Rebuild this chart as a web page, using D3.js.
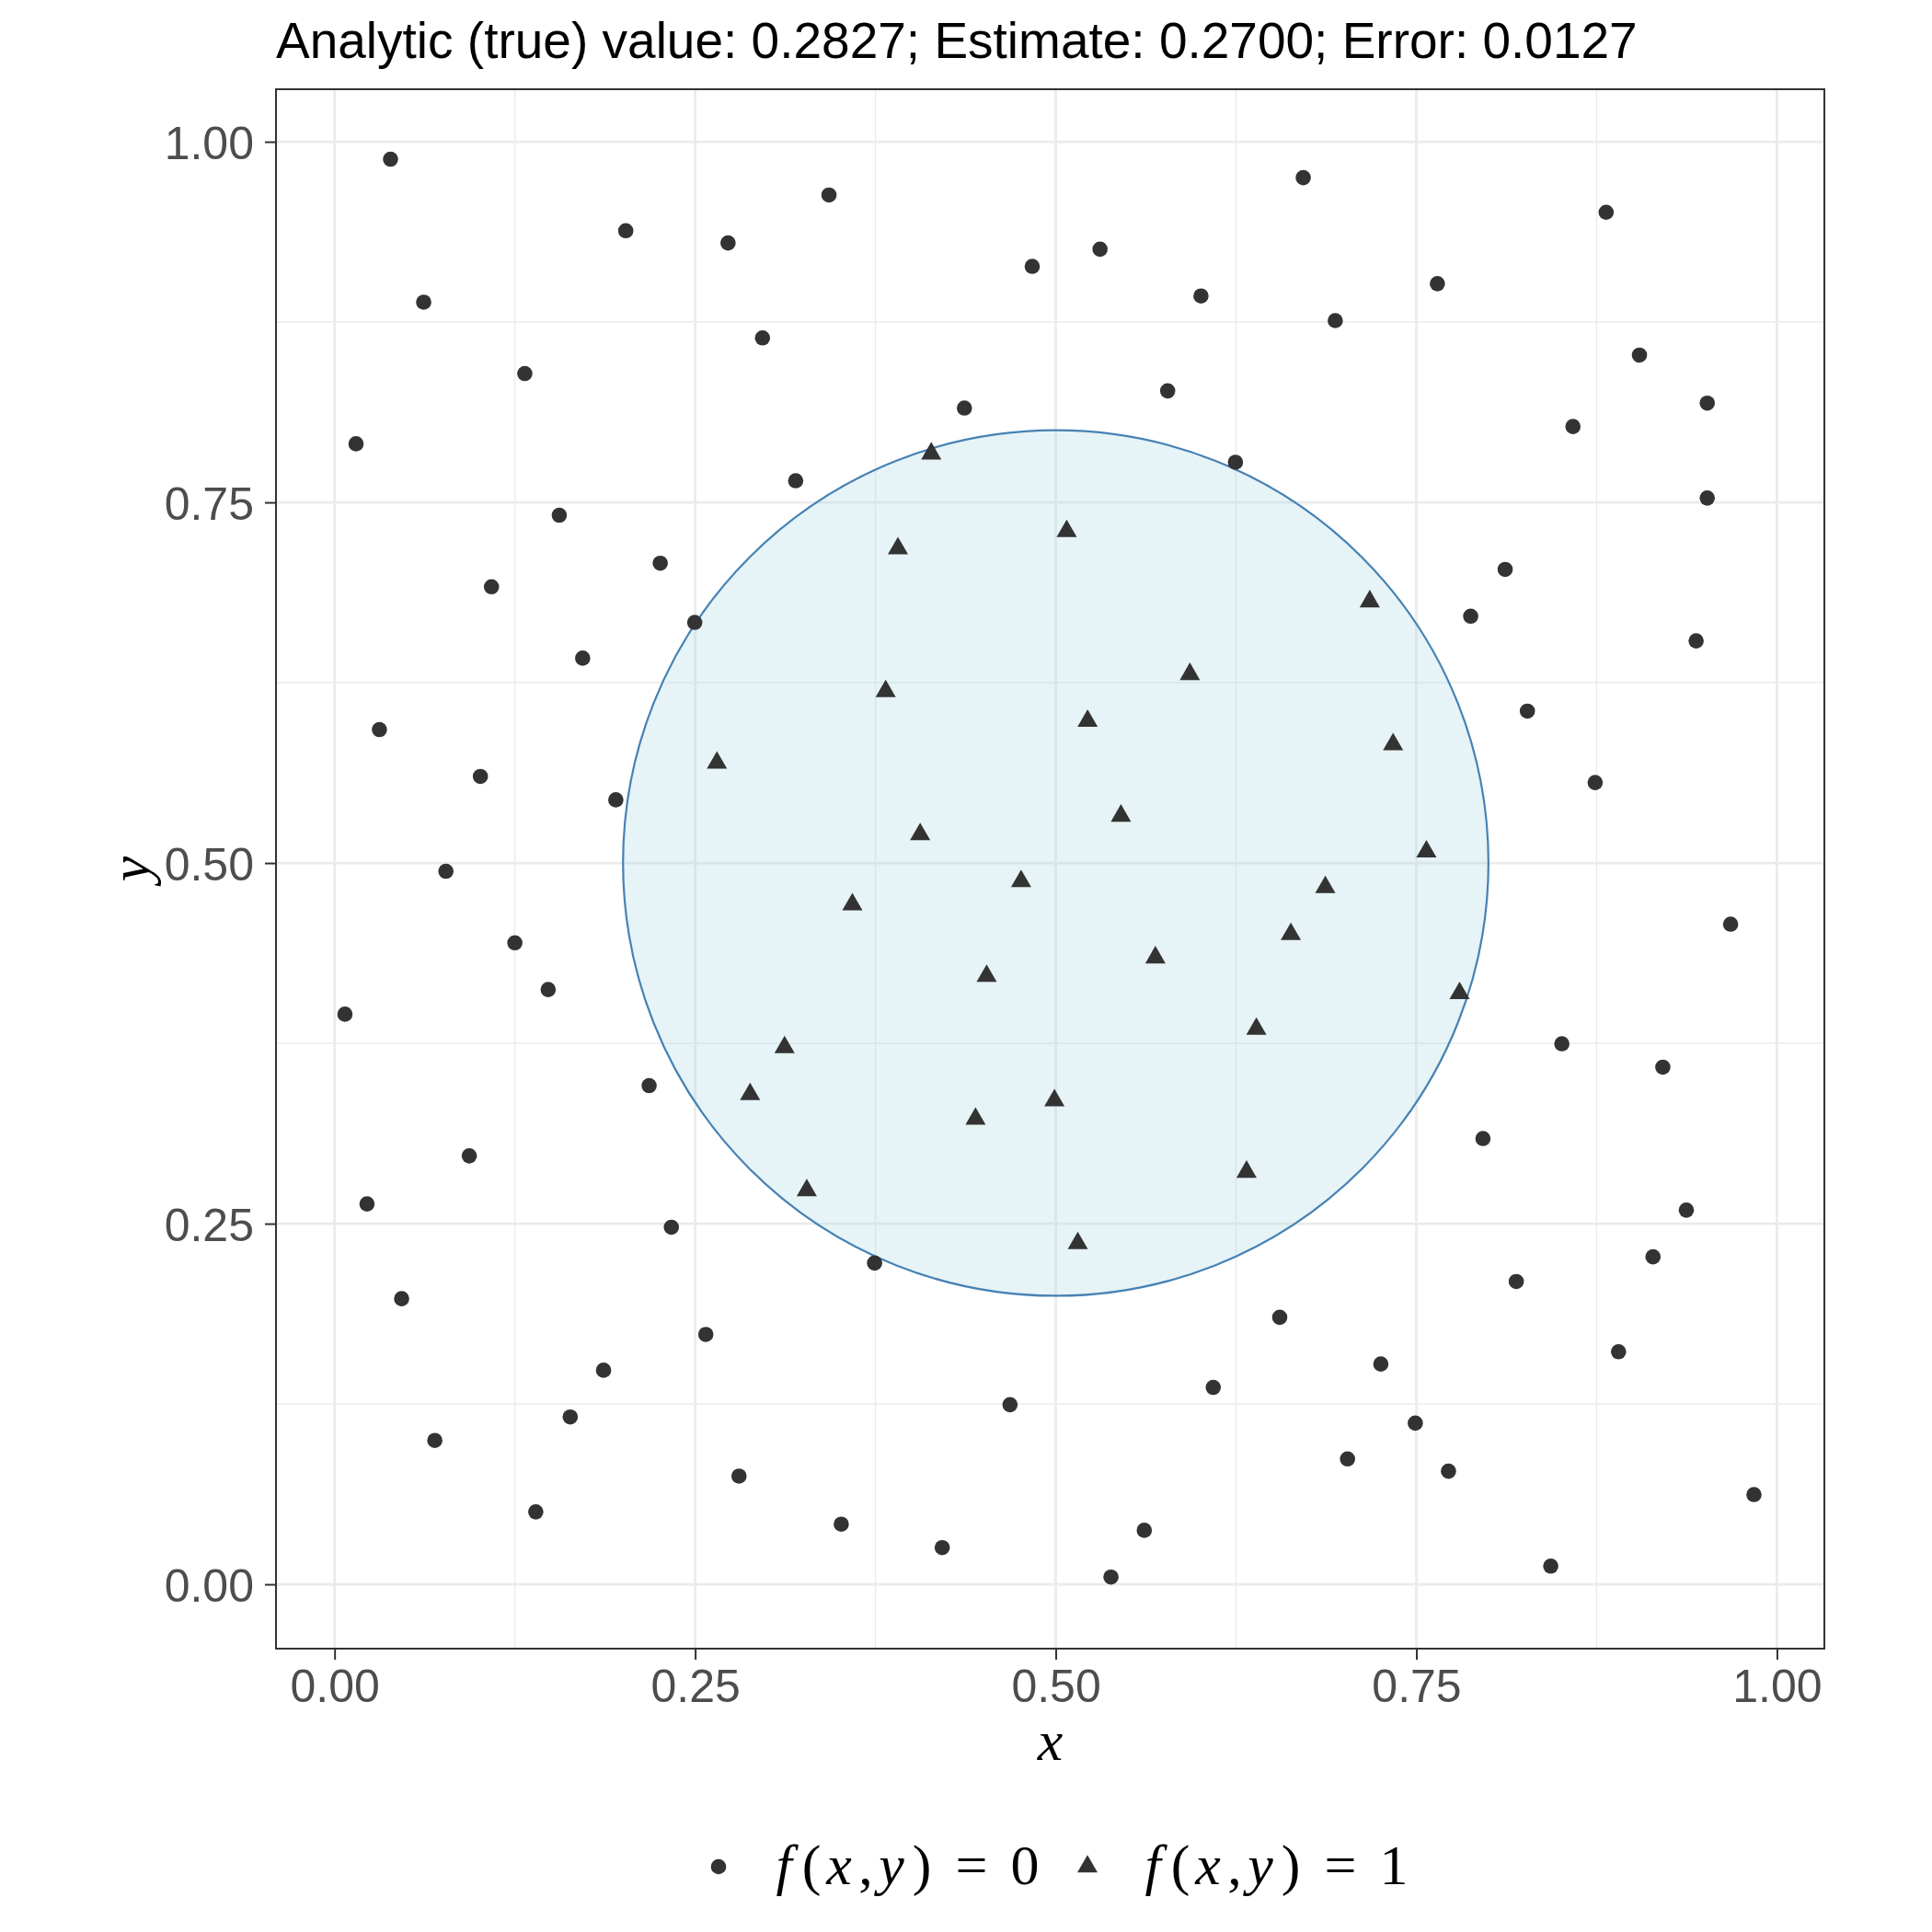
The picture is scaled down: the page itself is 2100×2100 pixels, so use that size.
<!DOCTYPE html>
<html>
<head>
<meta charset="utf-8">
<script src="https://cdn.jsdelivr.net/npm/d3@7"></script>
<style>
  body { margin: 0; background: #fff; }
</style>
</head>
<body>
<div id="chart"></div>
<script>
// points where f(x,y) = 0 (outside the circle)
var outX = [0.0388, 0.3428, 0.6716, 0.8816, 0.2019, 0.2728, 0.5307, 0.4837, 0.7646, 0.0618,
            0.6007, 0.6938, 0.2967, 0.9047, 0.1319, 0.5776, 0.4367, 0.9517, 0.8586, 0.0149,
            0.3197, 0.6246, 0.9517, 0.1558, 0.2258, 0.8116, 0.1088, 0.2497, 0.7877, 0.9440,
            0.1720, 0.8270, 0.0311, 0.1011, 0.8740, 0.1950, 0.0772, 0.9679, 0.1250, 0.1481,
            0.0072, 0.8509, 0.9209, 0.2181, 0.7962, 0.0934, 0.0225, 0.9372, 0.2335, 0.3744,
            0.9141, 0.8193, 0.0465, 0.6553, 0.2574, 0.7254, 0.1865, 0.8902, 0.6092, 0.4683,
            0.1634, 0.7493, 0.0695, 0.7023, 0.7723, 0.2804, 0.9841, 0.1395, 0.3513, 0.5614,
            0.4213, 0.8432, 0.5383];
var outY = [0.9879, 0.9631, 0.9751, 0.9511, 0.9383, 0.9298, 0.9255, 0.9136, 0.9016, 0.8888,
            0.8931, 0.8760, 0.8640, 0.8521, 0.8393, 0.8273, 0.8154, 0.8188, 0.8026, 0.7906,
            0.7650, 0.7778, 0.7530, 0.7411, 0.7078, 0.7035, 0.6915, 0.6668, 0.6711, 0.6540,
            0.6420, 0.6053, 0.5925, 0.5600, 0.5558, 0.5438, 0.4943, 0.4576, 0.4447, 0.4123,
            0.3952, 0.3747, 0.3585, 0.3457, 0.3090, 0.2970, 0.2637, 0.2594, 0.2475, 0.2227,
            0.2270, 0.2099, 0.1980, 0.1851, 0.1732, 0.1527, 0.1484, 0.1612, 0.1365, 0.1245,
            0.1160, 0.1117, 0.0997, 0.0869, 0.0784, 0.0750, 0.0622, 0.0502, 0.0417, 0.0374,
            0.0254, 0.0126, 0.0050];

// points where f(x,y) = 1 (inside the circle)
var inX = [0.4137, 0.3906, 0.5076, 0.7177, 0.3821, 0.5930, 0.5221, 0.7339, 0.2651, 0.4060,
           0.5452, 0.7570, 0.4760, 0.3590, 0.6869, 0.6630, 0.5691, 0.4521, 0.7800, 0.3120,
           0.6391, 0.2881, 0.4444, 0.4991, 0.3274, 0.6323, 0.5153];
var inY = [0.7838, 0.7180, 0.7300, 0.6813, 0.6190, 0.6309, 0.5985, 0.5822, 0.5694, 0.5199,
           0.5327, 0.5079, 0.4874, 0.4712, 0.4832, 0.4507, 0.4345, 0.4217, 0.4097, 0.3722,
           0.3850, 0.3397, 0.3226, 0.3354, 0.2731, 0.2859, 0.2364];

var circleCenter = [0.5, 0.5];
var circleRadius = 0.3;

var majorTicks = [0, 0.25, 0.5, 0.75, 1];
var minorTicks = [0.125, 0.375, 0.625, 0.875];
var tickLabels = ['0.00', '0.25', '0.50', '0.75', '1.00'];

var trueValue = 0.2827;
var estimate = 0.2700;
var errorValue = 0.0127;
var legendLabels = ['0', '1'];

const width = 2100;
const height = 2100;
const panel = {left: 300, right: 1983, top: 97, bottom: 1792};
const sans = 'Liberation Sans, Arial, Helvetica, sans-serif';
const serif = 'Liberation Serif, Times New Roman, serif';
const ink = '#333333';

const svg = d3.select('#chart')
    .append('svg')
    .attr('width', width)
    .attr('height', height)
    .style('background', '#fff');

var x = d3.scaleLinear()
    .domain([-0.0406, 1.0329])
    .range([panel.left, panel.right]);

var y = d3.scaleLinear()
    .domain([-0.0446, 1.0364])
    .range([panel.bottom, panel.top]);

// panel background
svg.append('rect')
    .attr('x', panel.left).attr('y', panel.top)
    .attr('width', panel.right - panel.left)
    .attr('height', panel.bottom - panel.top)
    .attr('fill', '#fff');

// grid
var grid = svg.append('g');
function gridLines(vals, w) {
    grid.selectAll(null).data(vals).enter().append('line')
        .attr('x1', d => x(d)).attr('x2', d => x(d))
        .attr('y1', panel.top).attr('y2', panel.bottom)
        .attr('stroke', '#EBEBEB').attr('stroke-width', w);
    grid.selectAll(null).data(vals).enter().append('line')
        .attr('y1', d => y(d)).attr('y2', d => y(d))
        .attr('x1', panel.left).attr('x2', panel.right)
        .attr('stroke', '#EBEBEB').attr('stroke-width', w);
}
gridLines(minorTicks, 1.4);
gridLines(majorTicks, 2.7);

// the circle
svg.append('ellipse')
    .attr('cx', x(circleCenter[0]))
    .attr('cy', y(circleCenter[1]))
    .attr('rx', x(circleCenter[0] + circleRadius) - x(circleCenter[0]))
    .attr('ry', y(circleCenter[1]) - y(circleCenter[1] + circleRadius))
    .attr('fill', 'lightblue')
    .attr('fill-opacity', 0.3)
    .attr('stroke', 'steelblue')
    .attr('stroke-width', 2.2);

var dot = d3.symbol().type(d3.symbolCircle).size(Math.PI * 8.3 * 8.3);
var tri = d3.symbol().type(d3.symbolTriangle).size(Math.sqrt(3) / 4 * 22 * 22);

svg.append('g').selectAll('path')
    .data(d3.range(outX.length))
    .enter()
    .append('path')
    .attr('d', dot)
    .attr('transform', i => 'translate(' + x(outX[i]) + ',' + y(outY[i]) + ')')
    .attr('fill', ink);

svg.append('g').selectAll('path')
    .data(d3.range(inX.length))
    .enter()
    .append('path')
    .attr('d', tri)
    .attr('transform', i => 'translate(' + x(inX[i]) + ',' + y(inY[i]) + ')')
    .attr('fill', ink);

// panel border
svg.append('rect')
    .attr('x', panel.left).attr('y', panel.top)
    .attr('width', panel.right - panel.left)
    .attr('height', panel.bottom - panel.top)
    .attr('fill', 'none')
    .attr('stroke', ink)
    .attr('stroke-width', 2);

// axes
var fmt = d => tickLabels[majorTicks.indexOf(d)];
var xAxis = svg.append('g')
    .attr('transform', 'translate(0,' + panel.bottom + ')')
    .call(d3.axisBottom(x).tickValues(majorTicks).tickFormat(fmt).tickSize(12).tickPadding(10));
var yAxis = svg.append('g')
    .attr('transform', 'translate(' + panel.left + ',0)')
    .call(d3.axisLeft(y).tickValues(majorTicks).tickFormat(fmt).tickSize(12).tickPadding(12));

[xAxis, yAxis].forEach(function(a) {
    a.select('.domain').remove();
    a.selectAll('line').attr('stroke', ink).attr('stroke-width', 2);
    a.selectAll('text')
        .attr('font-family', sans)
        .attr('font-size', 50)
        .attr('fill', '#4D4D4D');
});
yAxis.selectAll('text').attr('dy', '0.36em');

// title
svg.append('text')
    .attr('x', panel.left)
    .attr('y', 63)
    .attr('font-family', sans)
    .attr('font-size', 55)
    .attr('fill', '#000')
    .text('Analytic (true) value: ' + trueValue.toFixed(4) +
          '; Estimate: ' + estimate.toFixed(4) +
          '; Error: ' + errorValue.toFixed(4));

// axis titles
svg.append('text')
    .attr('x', (panel.left + panel.right) / 2)
    .attr('y', 1913)
    .attr('text-anchor', 'middle')
    .attr('font-family', serif)
    .attr('font-style', 'italic')
    .attr('font-size', 62)
    .text('x');

svg.append('text')
    .attr('transform', 'translate(162,' + (panel.top + panel.bottom) / 2 + ') rotate(-90)')
    .attr('text-anchor', 'middle')
    .attr('font-family', serif)
    .attr('font-style', 'italic')
    .attr('font-size', 62)
    .text('y');

// legend: key symbol, then the math label set glyph by glyph (LaTeX-like spacing)
var legendKeyX = [781, 1182];
var glyphs = ['f', '(', 'x', ',', 'y', ')', '='];
var glyphItalic = [1, 0, 1, 0, 1, 0, 0];
var glyphOffset = [71, 101, 131, 160, 188, 221, 275];
var labelOffset = 333;
var legend = svg.append('g');
legendLabels.forEach(function(lab, i) {
    var kx = legendKeyX[i];
    legend.append('path')
        .attr('d', i === 0 ? dot : tri)
        .attr('transform', 'translate(' + kx + ',2029)')
        .attr('fill', ink);
    var t = legend.append('text')
        .attr('y', 2048)
        .attr('text-anchor', 'middle')
        .attr('font-family', serif)
        .attr('font-size', 62)
        .attr('fill', '#000');
    glyphs.concat([lab]).forEach(function(g, j) {
        t.append('tspan')
            .attr('x', kx + (j < glyphs.length ? glyphOffset[j] : labelOffset))
            .attr('font-style', glyphItalic[j] ? 'italic' : 'normal')
            .text(g);
    });
});
</script>
</body>
</html>
